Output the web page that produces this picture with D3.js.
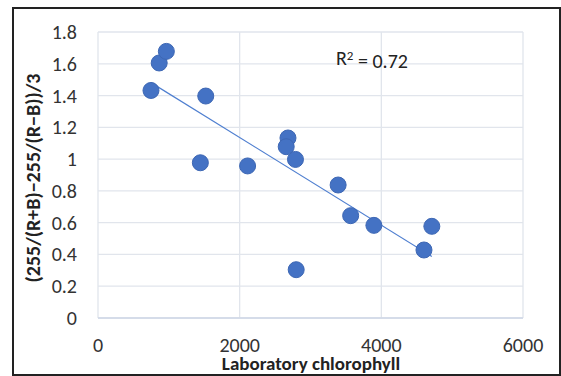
<!DOCTYPE html>
<html>
<head>
<meta charset="utf-8">
<script src="https://cdn.jsdelivr.net/npm/d3@7"></script>
<style>
  body { margin: 0; background: #fff; }
  svg { display: block; font-family: Carlito, Lato, "Open Sans", sans-serif; }
</style>
</head>
<body>
<svg id="chart" width="561" height="376"></svg>
<script>
// Lab chlorophyll vs colour index
const chlorophyll = [748, 864, 965, 1521, 1445, 2112, 2682, 2657, 2788, 2798, 3390, 3567, 3895, 4602, 4713];
const colourIndex = [1.432, 1.605, 1.678, 1.397, 0.977, 0.957, 1.133, 1.078, 0.998, 0.304, 0.837, 0.644, 0.583, 0.428, 0.577];
const xTicks = [0, 2000, 4000, 6000];
const yTicks = [0, 0.2, 0.4, 0.6, 0.8, 1, 1.2, 1.4, 1.6, 1.8];
const rSquaredLabel = "0.72";

const svg = d3.select("#chart");
const W = 561, H = 376;
const margin = { left: 98, right: 38, top: 32, bottom: 58 };

// outer frame
svg.append("rect")
  .attr("x", 13).attr("y", 8)
  .attr("width", W - 14).attr("height", H - 9)
  .attr("fill", "none").attr("stroke", "#222").attr("stroke-width", 2);

const x = d3.scaleLinear().domain([0, 6000]).range([margin.left, W - margin.right]);
const y = d3.scaleLinear().domain([0, 1.8]).range([H - margin.bottom, margin.top]);

// gridlines
const g = svg.append("g");
g.selectAll(".hgrid").data(yTicks).enter().append("line")
  .attr("x1", x(0)).attr("x2", x(6000))
  .attr("y1", d => y(d)).attr("y2", d => y(d))
  .attr("stroke", "#e1e5ec").attr("stroke-width", 1.3);
g.selectAll(".vgrid").data(xTicks).enter().append("line")
  .attr("y1", y(0)).attr("y2", y(1.8))
  .attr("x1", d => x(d)).attr("x2", d => x(d))
  .attr("stroke", "#e1e5ec").attr("stroke-width", 1.3);
// bottom axis line
g.append("line")
  .attr("x1", x(0)).attr("x2", x(6000))
  .attr("y1", y(0)).attr("y2", y(0))
  .attr("stroke", "#cfd7e6").attr("stroke-width", 1.3);

// tick labels
svg.selectAll(".ytl").data(yTicks).enter().append("text")
  .attr("x", 77).attr("y", d => y(d))
  .attr("dy", "0.35em").attr("text-anchor", "end")
  .attr("font-size", 20).attr("fill", "#333")
  .text(d => d);
svg.selectAll(".xtl").data(xTicks).enter().append("text")
  .attr("x", d => x(d)).attr("y", 345)
  .attr("dy", "0.35em").attr("text-anchor", "middle")
  .attr("font-size", 20).attr("fill", "#333")
  .text(d => d);

// trendline (least squares)
const n = chlorophyll.length;
const mx = d3.mean(chlorophyll), my = d3.mean(colourIndex);
let sxy = 0, sxx = 0;
for (let i = 0; i < n; i++) {
  sxy += (chlorophyll[i] - mx) * (colourIndex[i] - my);
  sxx += (chlorophyll[i] - mx) ** 2;
}
const slope = sxy / sxx, icpt = my - slope * mx;
const [x0, x1] = d3.extent(chlorophyll);
svg.append("line")
  .attr("x1", x(x0)).attr("y1", y(icpt + slope * x0))
  .attr("x2", x(x1)).attr("y2", y(icpt + slope * x1))
  .attr("stroke", "#4f7fd0").attr("stroke-width", 1.2);

// points
svg.selectAll(".pt").data(chlorophyll).enter().append("circle")
  .attr("cx", d => x(d))
  .attr("cy", (d, i) => y(colourIndex[i]))
  .attr("r", 8)
  .attr("fill", "#4472c4")
  .attr("stroke", "#3d67b4").attr("stroke-width", 1);

// R squared
const r2 = svg.append("text")
  .attr("x", 336).attr("y", 58).attr("dy", "0.35em")
  .attr("font-size", 20).attr("fill", "#222");
r2.append("tspan").text("R");
r2.append("tspan").attr("dy", "-0.4em").attr("font-size", 13).text("2");
r2.append("tspan").attr("dy", "0.4em").text(" = " + rSquaredLabel);

// axis titles
svg.append("text")
  .attr("x", 311).attr("y", 363).attr("dy", "0.35em")
  .attr("text-anchor", "middle").attr("font-size", 19).attr("font-weight", "bold")
  .attr("fill", "#222")
  .text("Laboratory chlorophyll");
svg.append("text")
  .attr("transform", "translate(33,178) rotate(-90)")
  .attr("dy", "0.35em")
  .attr("text-anchor", "middle").attr("font-size", 20).attr("font-weight", "bold")
  .attr("fill", "#222")
  .text("(255/(R+B)\u2212255/(R\u2212B))/3");
</script>
</body>
</html>
